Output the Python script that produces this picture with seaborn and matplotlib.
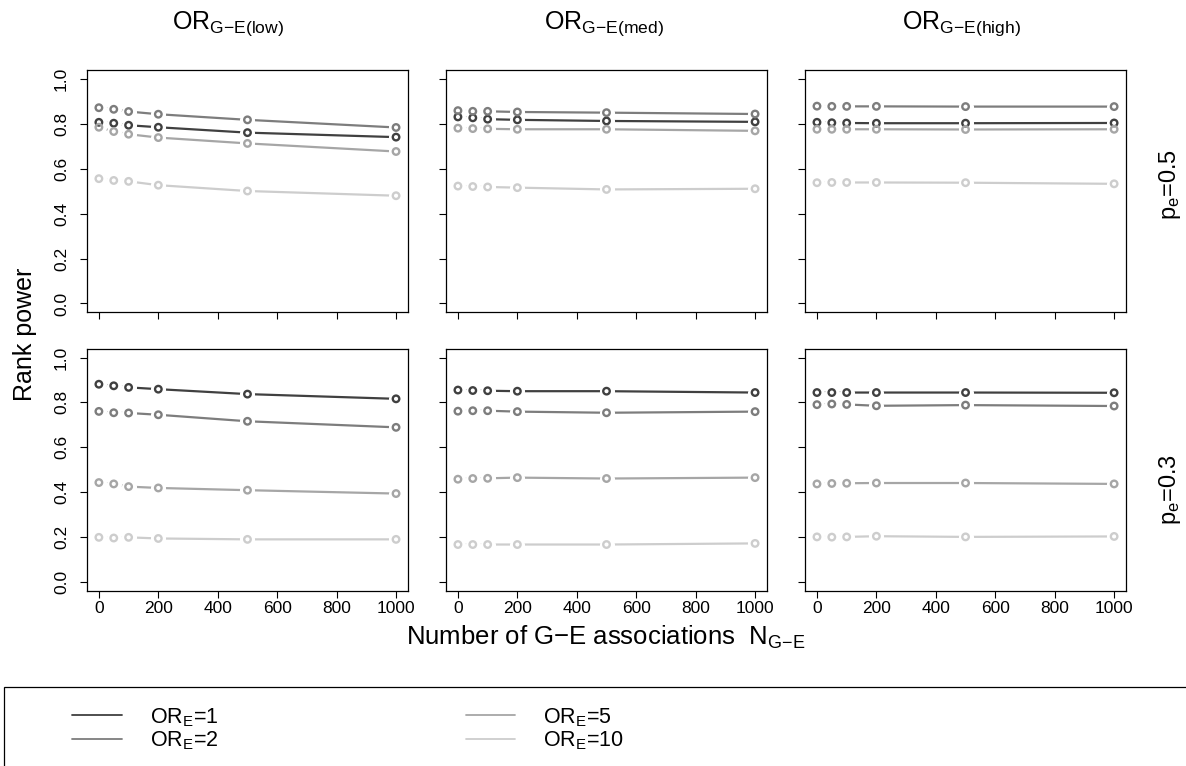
import numpy as np
import pandas as pd
import matplotlib
matplotlib.use("Agg")
import matplotlib.pyplot as plt
from matplotlib.patches import Rectangle
from matplotlib.lines import Line2D
import seaborn as sns

# ---------------- data ----------------
n_ge = [0, 50, 100, 200, 500, 1000]
or_e_levels = ["1", "2", "5", "10"]
col_levels = ["low", "med", "high"]
row_levels = ["0.5", "0.3"]

# p_e = 0.5
pe05_low_or1 = [0.807, 0.803, 0.794, 0.785, 0.761, 0.741]
pe05_low_or2 = [0.872, 0.865, 0.855, 0.843, 0.818, 0.784]
pe05_low_or5 = [0.785, 0.766, 0.754, 0.739, 0.713, 0.677]
pe05_low_or10 = [0.556, 0.548, 0.544, 0.527, 0.501, 0.480]

pe05_med_or1 = [0.831, 0.827, 0.821, 0.818, 0.813, 0.809]
pe05_med_or2 = [0.859, 0.856, 0.856, 0.853, 0.850, 0.844]
pe05_med_or5 = [0.781, 0.779, 0.778, 0.776, 0.776, 0.769]
pe05_med_or10 = [0.523, 0.521, 0.519, 0.516, 0.508, 0.511]

pe05_high_or1 = [0.807, 0.805, 0.804, 0.803, 0.803, 0.804]
pe05_high_or2 = [0.879, 0.878, 0.878, 0.878, 0.877, 0.877]
pe05_high_or5 = [0.776, 0.776, 0.776, 0.776, 0.775, 0.776]
pe05_high_or10 = [0.538, 0.539, 0.539, 0.539, 0.538, 0.533]

# p_e = 0.3
pe03_low_or1 = [0.881, 0.874, 0.867, 0.859, 0.837, 0.816]
pe03_low_or2 = [0.760, 0.754, 0.753, 0.745, 0.716, 0.689]
pe03_low_or5 = [0.443, 0.437, 0.425, 0.419, 0.409, 0.394]
pe03_low_or10 = [0.199, 0.196, 0.199, 0.194, 0.190, 0.190]

pe03_med_or1 = [0.855, 0.853, 0.852, 0.850, 0.850, 0.844]
pe03_med_or2 = [0.761, 0.763, 0.763, 0.759, 0.754, 0.759]
pe03_med_or5 = [0.458, 0.461, 0.462, 0.465, 0.461, 0.465]
pe03_med_or10 = [0.167, 0.167, 0.167, 0.167, 0.167, 0.172]

pe03_high_or1 = [0.844, 0.844, 0.844, 0.844, 0.844, 0.843]
pe03_high_or2 = [0.790, 0.793, 0.791, 0.785, 0.788, 0.784]
pe03_high_or5 = [0.437, 0.439, 0.440, 0.441, 0.441, 0.437]
pe03_high_or10 = [0.201, 0.200, 0.201, 0.204, 0.201, 0.203]

series = {
    ("0.5", "low"): [pe05_low_or1, pe05_low_or2, pe05_low_or5, pe05_low_or10],
    ("0.5", "med"): [pe05_med_or1, pe05_med_or2, pe05_med_or5, pe05_med_or10],
    ("0.5", "high"): [pe05_high_or1, pe05_high_or2, pe05_high_or5, pe05_high_or10],
    ("0.3", "low"): [pe03_low_or1, pe03_low_or2, pe03_low_or5, pe03_low_or10],
    ("0.3", "med"): [pe03_med_or1, pe03_med_or2, pe03_med_or5, pe03_med_or10],
    ("0.3", "high"): [pe03_high_or1, pe03_high_or2, pe03_high_or5, pe03_high_or10],
}

records = []
for (pe, lvl), vals in series.items():
    for ore, ys in zip(or_e_levels, vals):
        for n, y in zip(n_ge, ys):
            records.append(dict(pe=pe, level=lvl, N=n, power=y, ORE=ore))
df = pd.DataFrame(records)

colors = ["#404040", "#7d7d7d", "#a6a6a6", "#cdcdcd"]
palette = dict(zip(or_e_levels, colors))

# ---------------- style ----------------
sns.set_theme(style="ticks")
plt.rcParams["font.family"] = ["Liberation Sans", "DejaVu Sans"]
plt.rcParams["mathtext.fontset"] = "custom"
plt.rcParams["mathtext.rm"] = "Liberation Sans"
plt.rcParams["mathtext.it"] = "Liberation Sans:italic"
plt.rcParams["text.color"] = "black"
plt.rcParams["axes.labelcolor"] = "black"
plt.rcParams["axes.linewidth"] = 0.9
plt.rcParams["xtick.major.width"] = 0.8
plt.rcParams["ytick.major.width"] = 0.8
plt.rcParams["xtick.major.size"] = 5
plt.rcParams["ytick.major.size"] = 5
plt.rcParams["xtick.color"] = "black"
plt.rcParams["ytick.color"] = "black"
plt.rcParams["xtick.labelcolor"] = "black"
plt.rcParams["ytick.labelcolor"] = "black"
plt.rcParams["axes.edgecolor"] = "black"

fig, axes = plt.subplots(2, 3, sharex=True, sharey=True, figsize=(11.86, 7.66), dpi=100)
fig.subplots_adjust(left=87 / 1186, right=1126 / 1186, top=1 - 70 / 766,
                    bottom=1 - 591 / 766, wspace=38 / 320, hspace=36 / 242)

for i, pe in enumerate(row_levels):
    for j, lvl in enumerate(col_levels):
        ax = axes[i, j]
        sub = df[(df.pe == pe) & (df.level == lvl)]
        sns.lineplot(data=sub, x="N", y="power", hue="ORE", hue_order=or_e_levels,
                     palette=palette, ax=ax, legend=False, linewidth=1.6, zorder=2)
        # white halos to open gaps around points (R type="b")
        sns.scatterplot(data=sub, x="N", y="power", color="white", s=118,
                        linewidth=0, ax=ax, legend=False, zorder=3)
        sns.scatterplot(data=sub, x="N", y="power", hue="ORE", hue_order=or_e_levels,
                        palette=palette, s=22, linewidth=1.7, ax=ax, legend=False,
                        zorder=4, marker="o")
        coll = ax.collections[-1]
        fc = coll.get_facecolors()
        coll.set_edgecolors(fc)
        coll.set_facecolors("none")

        ax.set_xlim(-40, 1040)
        ax.set_ylim(-0.04, 1.04)
        ax.set_xticks([0, 200, 400, 600, 800, 1000])
        ax.set_yticks([0.0, 0.2, 0.4, 0.6, 0.8, 1.0])
        ax.set_yticklabels(["0.0", "0.2", "0.4", "0.6", "0.8", "1.0"],
                           rotation=90, va="center")
        ax.tick_params(axis="both", labelsize=12.5, pad=2)
        ax.tick_params(axis="y", pad=8)
        ax.set_xlabel("")
        ax.set_ylabel("")
        for s in ax.spines.values():
            s.set_visible(True)

# column titles
title_x = [228, 604, 962]
for lvl, tx in zip(col_levels, title_x):
    fig.text(tx / 1186, 1 - 29 / 766, "OR$_{\\mathregular{G{\u2212}E(%s)}}$" % lvl,
             ha="center", va="baseline", fontsize=18)

# row labels
row_y = [185, 490]
for pe, ry in zip(row_levels, row_y):
    fig.text(1170 / 1186, 1 - ry / 766, "p$_{\\mathregular{e}}$=%s" % pe,
             ha="center", va="center", rotation=90, fontsize=17)

fig.text(25 / 1186, 1 - 334 / 766, "Rank power", rotation=90, ha="center",
         va="center", fontsize=18)
fig.text(606 / 1186, 1 - 645 / 766,
         "Number of G\u2212E associations  N$_{\\mathregular{G{\u2212}E}}$",
         ha="center", va="baseline", fontsize=18.5)

# legend box
fig.patches.append(Rectangle((4 / 1186, -0.1), 1.2, 0.1 + (1 - 687 / 766),
                             transform=fig.transFigure, fill=False,
                             edgecolor="black", linewidth=0.9))
handles = [Line2D([], [], color=c, linewidth=1.3) for c in colors]
labels = ["OR$_{\\mathregular{E}}$=%s" % o for o in or_e_levels]
fig.legend(handles, labels, loc="upper left", bbox_to_anchor=(72 / 1186, 1 - 706 / 766),
           ncol=2, frameon=False, fontsize=15.5, handlelength=2.3,
           handletextpad=1.3, columnspacing=11.5, labelspacing=0.05,
           borderpad=0, borderaxespad=0)

fig.savefig("out.png", dpi=100, facecolor="white")
